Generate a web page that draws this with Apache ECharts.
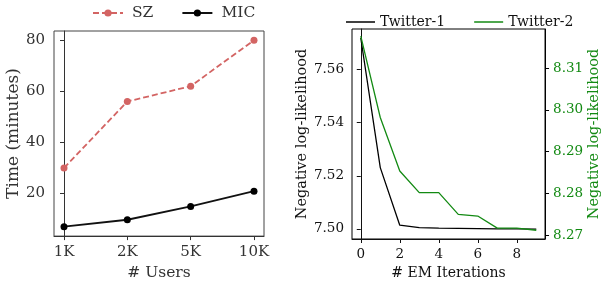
<!DOCTYPE html>
<html><head><meta charset="utf-8">
<script src="https://cdn.jsdelivr.net/npm/echarts@6/dist/echarts.min.js"></script>
<style>html,body{margin:0;padding:0;background:#fff}#c{width:603px;height:286px}</style>
</head><body><div id="c"></div>
<script>
const userCategories = ['1K', '2K', '5K', '10K'];
const szTime = [30, 56, 62, 80];
const micTime = [7, 9.7, 14.9, 20.9];
const leftYTicks = [20, 40, 60, 80];

const emIterations = [0, 1, 2, 3, 4, 5, 6, 7, 8, 9];
const twitter1 = [7.5719, 7.5231, 7.5014, 7.5005, 7.5003, 7.5002, 7.5001, 7.5000, 7.5000, 7.4999];
const twitter2 = [8.3177, 8.2982, 8.2854, 8.2802, 8.2802, 8.2750, 8.2746, 8.2717, 8.2717, 8.2712];
const emXTicks = [0, 2, 4, 6, 8];
const t1YTicks = [7.50, 7.52, 7.54, 7.56];
const t2YTicks = [8.27, 8.28, 8.29, 8.30, 8.31];

const FONT = 'DejaVu Serif';
const GREEN = '#138a13';
const chart = echarts.init(document.getElementById('c'), null, {renderer: 'canvas'});

function axisCommon(color, size, margin, ticks) {
  return {
    axisLine: {show: true, lineStyle: {color: color, width: 1}},
    axisTick: {show: true, inside: false, length: 4, lineStyle: {color: color}, customValues: ticks},
    axisLabel: {color: color, fontFamily: FONT, fontSize: size, margin: margin, customValues: ticks},
    splitLine: {show: false}
  };
}

const option = {
  animation: false,
  backgroundColor: '#fff',
  legend: [
    {
      left: 87, top: 0, itemWidth: 30, itemHeight: 9, itemGap: 28,
      textStyle: {fontFamily: FONT, fontSize: 15.5, color: '#333', padding: [0, 0, 0, 4]},
      data: ['SZ', 'MIC']
    },
    {
      left: 341, top: 10, itemWidth: 29, itemHeight: 1.5, itemGap: 29, icon: 'rect',
      textStyle: {fontFamily: FONT, fontSize: 14, color: '#111', padding: [0, 0, 0, 0]},
      data: ['Twitter-1', 'Twitter-2']
    }
  ],
  grid: [
    {left: 54, top: 31, width: 210, height: 210, show: true, borderColor: '#444', borderWidth: 1, containLabel: false},
    {left: 352, top: 29, width: 197, height: 210, show: true, borderColor: '#000', borderWidth: 1, containLabel: false}
  ],
  xAxis: [
    Object.assign({
      type: 'value', gridIndex: 0, min: -0.158, max: 3.158,
      name: '# Users', nameLocation: 'middle', nameGap: 27,
      nameTextStyle: {fontFamily: FONT, fontSize: 15.5, color: '#333'}
    }, axisCommon('#333', 15, 10, [0, 1, 2, 3]), {
      axisLabel: {color: '#333', fontFamily: FONT, fontSize: 15, margin: 9, customValues: [0, 1, 2, 3],
        formatter: v => userCategories[Math.round(v)]}
    }),
    Object.assign({
      type: 'value', gridIndex: 1, min: -0.45, max: 9.45,
      name: '# EM Iterations', nameLocation: 'middle', nameGap: 25,
      nameTextStyle: {fontFamily: FONT, fontSize: 14, color: '#111'}
    }, axisCommon('#111', 13.5, 8, emXTicks))
  ],
  yAxis: [
    Object.assign({
      type: 'value', gridIndex: 0, min: 3.3, max: 83.6,
      name: 'Time (minutes)', nameLocation: 'middle', nameGap: 29,
      nameTextStyle: {fontFamily: FONT, fontSize: 17, color: '#333'}
    }, axisCommon('#333', 15, 9, leftYTicks)),
    Object.assign({
      type: 'value', gridIndex: 1, min: 7.4962, max: 7.5753,
      name: 'Negative log-likelihood', nameLocation: 'middle', nameGap: 42,
      nameTextStyle: {fontFamily: FONT, fontSize: 14.5, color: '#111'}
    }, axisCommon('#111', 13.5, 8, t1YTicks), {
      axisLabel: {color: '#111', fontFamily: FONT, fontSize: 13.5, margin: 8, customValues: t1YTicks,
        formatter: v => v.toFixed(2)}
    }),
    Object.assign({
      type: 'value', gridIndex: 1, position: 'right', min: 8.2691, max: 8.3194,
      name: 'Negative log-likelihood', nameLocation: 'middle', nameGap: 41,
      nameTextStyle: {fontFamily: FONT, fontSize: 14.5, color: GREEN}
    }, axisCommon('#000', 13.5, 8, t2YTicks), {
      axisLabel: {color: GREEN, fontFamily: FONT, fontSize: 13.5, margin: 8, customValues: t2YTicks,
        formatter: v => v.toFixed(2)}
    })
  ],
  series: [
    {
      name: 'SZ', type: 'line', xAxisIndex: 0, yAxisIndex: 0,
      data: szTime.map((v, i) => [i, v]),
      symbol: 'circle', symbolSize: 7,
      lineStyle: {color: '#d36463', width: 1.8, type: [6, 3]},
      itemStyle: {color: '#d36463'}
    },
    {
      name: 'MIC', type: 'line', xAxisIndex: 0, yAxisIndex: 0,
      data: micTime.map((v, i) => [i, v]),
      symbol: 'circle', symbolSize: 7,
      lineStyle: {color: '#111', width: 1.8},
      itemStyle: {color: '#000'}
    },
    {
      name: 'Twitter-1', type: 'line', xAxisIndex: 1, yAxisIndex: 1,
      data: emIterations.map((x, i) => [x, twitter1[i]]),
      symbol: 'none', lineStyle: {color: '#000', width: 1.3}, itemStyle: {color: '#000'}
    },
    {
      name: 'Twitter-2', type: 'line', xAxisIndex: 1, yAxisIndex: 2,
      data: emIterations.map((x, i) => [x, twitter2[i]]),
      symbol: 'none', lineStyle: {color: GREEN, width: 1.3}, itemStyle: {color: GREEN}
    }
  ]
};
chart.setOption(option);
</script>
</body></html>
